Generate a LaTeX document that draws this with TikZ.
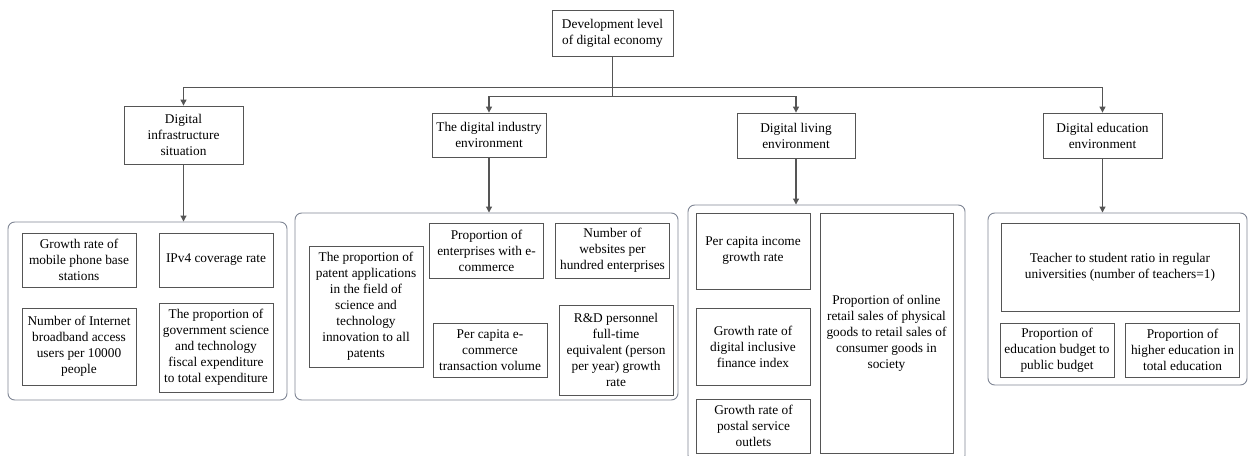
\documentclass[tikz,border=0pt]{standalone}
\usepackage{fontspec}
\setmainfont{Liberation Serif}
\usepackage{xcolor}
\usepackage{tikz}
\usetikzlibrary{arrows.meta,positioning}
\definecolor{linegray}{HTML}{555555}
\definecolor{groupgray}{HTML}{7F8594}
\tikzset{
  levelbox/.style={draw=linegray, line width=0.6pt, fill=white, align=center, inner sep=2pt},
  itembox/.style={draw=linegray, line width=0.6pt, fill=white, align=center, inner sep=2pt, minimum width=85.5pt},
  groupbox/.style={draw=groupgray, line width=0.7pt, rounded corners=5pt},
  arrow/.style={-{Triangle[length=4.5pt,width=4.5pt]}, line width=0.8pt, draw=linegray}
}

\begin{document}
\begin{tikzpicture}[x=0.75pt, y=-0.75pt, font=\fontsize{10}{12}\selectfont]
  \useasboundingbox (0,0) rectangle (1248,456);

  \node[groupbox, minimum width=209.25pt, minimum height=133.5pt] (grpinfra) at (147.5,311) {};
  \node[groupbox, minimum width=287.25pt, minimum height=140.25pt] (grpindustry) at (486.5,306.5) {};
  \node[groupbox, minimum width=207.75pt, minimum height=192.75pt] (grpliving) at (826.5,333.5) {};
  \node[groupbox, minimum width=194.25pt, minimum height=129pt] (grpeducation) at (1117.5,299) {};

  \node[levelbox, minimum width=90.75pt, minimum height=34.5pt] (top) at (612.5,33) {Development level\\of digital economy};
  \node[levelbox, minimum width=89.25pt, minimum height=43.5pt] (infra) at (183.5,135) {Digital\\infrastructure\\situation};
  \node[levelbox, minimum width=85.5pt, minimum height=33pt] (industry) at (489,135) {The digital industry\\environment};
  \node[levelbox, minimum width=88.5pt, minimum height=33.75pt] (living) at (796,135.5) {Digital living\\environment};
  \node[levelbox, minimum width=89.25pt, minimum height=33.75pt] (education) at (1102.5,135.5) {Digital education\\environment};

  \node[itembox, minimum height=40.5pt] (basestation) at (79,260) {Growth rate of\\mobile phone base\\stations};
  \node[itembox, minimum height=40.5pt] (ipv4) at (216,260) {IPv4 coverage rate};
  \node[itembox, minimum height=57.75pt] (broadband) at (79,346.5) {Number of Internet\\broadband access\\users per 10000\\people};
  \node[itembox, minimum height=66.75pt] (scifiscal) at (216,347.5) {The proportion of\\government science\\and technology\\fiscal expenditure\\to total expenditure};

  \node[itembox, minimum height=90.75pt] (patent) at (366,306.5) {The proportion of\\patent applications\\in the field of\\science and\\technology\\innovation to all\\patents};
  \node[itembox, minimum height=41.25pt] (ecommerce) at (486.5,250.5) {Proportion of\\enterprises with e-\\commerce};
  \node[itembox, minimum height=41.25pt] (websites) at (612.5,250.5) {Number of\\websites per\\hundred enterprises};
  \node[itembox, minimum height=40.5pt] (transaction) at (490,350) {Per capita e-\\commerce\\transaction volume};
  \node[itembox, minimum height=67.5pt] (rdstaff) at (616,350) {R\&D personnel\\full-time\\equivalent (person\\per year) growth\\rate};

  \node[itembox, minimum height=57pt] (income) at (753,251) {Per capita income\\growth rate};
  \node[itembox, minimum height=57.75pt] (finance) at (753,346.5) {Growth rate of\\digital inclusive\\finance index};
  \node[itembox, minimum height=40.5pt] (postal) at (753.5,426) {Growth rate of\\postal service\\outlets};
  \node[itembox, minimum width=99.75pt, minimum height=180pt] (onlineretail) at (886.5,333) {Proportion of online\\retail sales of physical\\goods to retail sales of\\consumer goods in\\society};

  \node[itembox, minimum width=178.5pt, minimum height=66pt] (teacher) at (1120,267) {Teacher to student ratio in regular\\universities (number of teachers=1)};
  \node[itembox, minimum height=40.5pt] (budget) at (1057,350) {Proportion of\\education budget to\\public budget};
  \node[itembox, minimum height=40.5pt] (higheredu) at (1182.5,350) {Proportion of\\higher education in\\total education};

  \draw[arrow] (top.south) -- ++(0,31) -| (infra.north);
  \draw[arrow] (top.south) -- ++(0,40) -| (industry.north);
  \draw[arrow] (top.south) -- ++(0,40) -| (living.north);
  \draw[arrow] (top.south) -- ++(0,31) -| (education.north);
  \draw[arrow] (infra.south) -- (infra.south |- grpinfra.north);
  \draw[arrow] (industry.south) -- (industry.south |- grpindustry.north);
  \draw[arrow] (living.south) -- (living.south |- grpliving.north);
  \draw[arrow] (education.south) -- (education.south |- grpeducation.north);
\end{tikzpicture}
\end{document}
